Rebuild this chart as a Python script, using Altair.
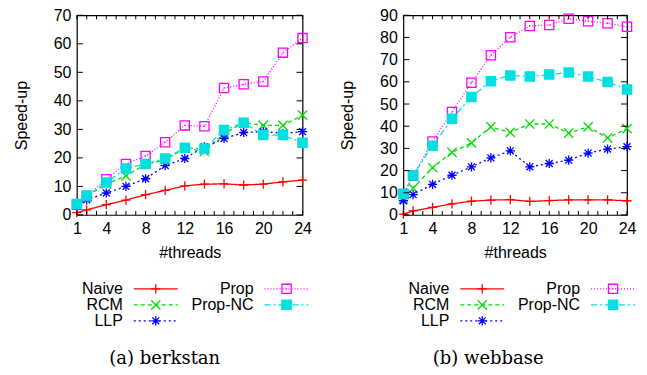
import altair as alt
import pandas as pd

threads = [1, 2, 4, 6, 8, 10, 12, 14, 16, 18, 20, 22, 24]
series_names = ["Naive", "RCM", "LLP", "Prop", "Prop-NC"]

# berkstan
naive_b = [0.8, 1.8, 3.6, 5.2, 7.1, 8.6, 10.2, 10.8, 10.9, 10.5, 10.8, 11.6, 12.2]
rcm_b = [3.6, 6.5, 10.9, 13.7, 17.8, 19.3, 23.5, 22.3, 28.5, 32.4, 31.4, 31.4, 35.0]
llp_b = [3.6, 5.3, 7.7, 10.0, 12.7, 17.3, 19.8, 23.9, 26.8, 28.9, 29.2, 28.6, 29.2]
prop_b = [3.6, 6.5, 12.5, 17.9, 20.7, 25.5, 31.4, 31.1, 44.5, 45.8, 46.8, 56.9, 62.0]
propnc_b = [3.8, 6.8, 11.4, 16.3, 17.9, 19.8, 23.6, 23.2, 29.8, 32.3, 28.0, 28.0, 25.3]

# webbase
naive_w = [0.4, 1.8, 3.4, 5.0, 6.2, 6.7, 6.9, 6.1, 6.5, 6.8, 6.8, 6.8, 6.4]
rcm_w = [7.0, 12.1, 21.3, 28.2, 32.5, 39.7, 37.2, 41.0, 41.0, 36.9, 39.7, 34.7, 38.9]
llp_w = [6.4, 9.2, 13.8, 17.9, 21.7, 25.7, 28.9, 21.7, 23.2, 24.7, 27.9, 29.7, 30.8]
prop_w = [9.4, 17.7, 33.1, 46.4, 59.6, 72.0, 80.1, 85.2, 85.6, 88.4, 87.3, 86.4, 84.8]
propnc_w = [9.4, 17.8, 31.2, 43.4, 53.2, 60.3, 62.9, 62.4, 63.3, 64.2, 62.4, 59.9, 56.6]

x_label_ticks = [1, 4, 8, 12, 16, 20, 24]
x_minor_ticks = list(range(1, 25))
y_ticks_b = [0, 10, 20, 30, 40, 50, 60, 70]
y_ticks_w = [0, 10, 20, 30, 40, 50, 60, 70, 80, 90]

legend_col = [0, 0, 0, 1, 1]
legend_row = [0, 1, 2, 0, 1]

colors = ["#ff0000", "#00dd00", "#0000ff", "#ff00ff", "#00e0e0"]
dashes = [[1, 0], [4, 3], [2, 3], [1, 2], [6, 3, 2, 3]]
PLUS = "M-1,0L1,0M0,-1L0,1"
XS = "M-1,-1L1,1M1,-1L-1,1"
STAR = "M-1,0L1,0M0,-1L0,1M-0.75,-0.75L0.75,0.75M0.75,-0.75L-0.75,0.75"
OSQ = "M-1,-1L1,-1L1,1L-1,1Z M-0.12,0L0.12,0"
shapes = [PLUS, XS, STAR, OSQ, "square"]
fills = ["transparent", "transparent", "transparent", "transparent", "#00e0e0"]

FONT = "Liberation Sans"
FS = 16

color_scale = alt.Scale(domain=series_names, range=colors)
dash_scale = alt.Scale(domain=series_names, range=dashes)
shape_scale = alt.Scale(domain=series_names, range=shapes)
fill_scale = alt.Scale(domain=series_names, range=fills)


def long_df(vals):
    rows = []
    for name, v in zip(series_names, vals):
        for t, s in zip(threads, v):
            rows.append({"series": name, "threads": t, "speedup": s})
    return pd.DataFrame(rows)


def panel(vals, ymax, yticks, width, caption, cap_dx):
    H = 200
    df = long_df(vals)
    xs = alt.Scale(domain=[1, 24], nice=False, zero=False)
    ys = alt.Scale(domain=[0, ymax], nice=False)
    xaxis = alt.Axis(values=x_label_ticks, title="#threads", ticks=False, domain=False,
                     grid=False, labelPadding=6, labelFontSize=FS, labelFont=FONT,
                     titleFont=FONT, titleFontSize=FS, titleFontWeight="normal",
                     titlePadding=8, labelFlush=False, labelOverlap=False,
                     labelColor="black", titleColor="black")
    yaxis = alt.Axis(values=yticks, title="Speed-up", ticks=False, domain=False,
                     grid=False, labelPadding=6, labelFontSize=FS, labelFont=FONT,
                     titleFont=FONT, titleFontSize=FS, titleFontWeight="normal",
                     titlePadding=24, labelFlush=False, labelOverlap=False,
                     labelColor="black", titleColor="black")
    base = alt.Chart(df)
    X = alt.X("threads:Q", scale=xs, axis=xaxis)
    Y = alt.Y("speedup:Q", scale=ys, axis=yaxis)
    lines = base.mark_line(strokeWidth=1.3, clip=False).encode(
        x=X, y=Y,
        stroke=alt.Stroke("series:N", scale=color_scale, legend=None),
        strokeDash=alt.StrokeDash("series:N", scale=dash_scale, legend=None),
    )
    pts = base.mark_point(filled=False, size=85, strokeWidth=1.3, opacity=1).encode(
        x=X, y=Y,
        shape=alt.Shape("series:N", scale=shape_scale, legend=None),
        stroke=alt.Stroke("series:N", scale=color_scale, legend=None),
        fill=alt.Fill("series:N", scale=fill_scale, legend=None),
    )
    xt = alt.Chart(pd.DataFrame({"threads": x_minor_ticks}))
    yt = alt.Chart(pd.DataFrame({"speedup": yticks}))
    tb = xt.mark_rule(color="black", strokeWidth=1).encode(
        x=X, y=alt.value(H), y2=alt.value(H - 4))
    tt = xt.mark_rule(color="black", strokeWidth=1).encode(
        x=X, y=alt.value(0), y2=alt.value(4))
    tl = yt.mark_rule(color="black", strokeWidth=1).encode(
        y=Y, x=alt.value(0), x2=alt.value(6))
    tr = yt.mark_rule(color="black", strokeWidth=1).encode(
        y=Y, x=alt.value(width), x2=alt.value(width - 6))
    plot = alt.layer(lines, pts, tb, tt, tl, tr)

    ldf = pd.DataFrame({"series": series_names, "col": legend_col, "row": legend_row})
    lxs = alt.Scale(domain=[0, 1], range=[79, 210])
    lys = alt.Scale(domain=[0, 2], range=[H + 74, H + 106])
    lb = alt.Chart(ldf)
    LX = alt.X("col:Q", scale=lxs, axis=None)
    LY = alt.Y("row:Q", scale=lys, axis=None)
    lline = lb.mark_point(shape="M-1,0L1,0", size=44 * 44, filled=False,
                          strokeWidth=1.3, opacity=1).encode(
        x=LX, y=LY,
        stroke=alt.Stroke("series:N", scale=color_scale, legend=None),
        strokeDash=alt.StrokeDash("series:N", scale=dash_scale, legend=None),
    )
    lpts = lb.mark_point(filled=False, size=85, strokeWidth=1.3, opacity=1).encode(
        x=LX, y=LY,
        shape=alt.Shape("series:N", scale=shape_scale, legend=None),
        stroke=alt.Stroke("series:N", scale=color_scale, legend=None),
        fill=alt.Fill("series:N", scale=fill_scale, legend=None),
    )
    ltxt = lb.mark_text(align="right", baseline="middle", dx=-33, font=FONT,
                        fontSize=FS, color="black").encode(
        x=LX, y=LY, text="series:N",
    )
    leg = alt.layer(lline, lpts, ltxt)
    return alt.layer(plot, leg).resolve_scale(x="independent", y="independent").properties(
        width=width, height=H,
        title=alt.TitleParams(caption, orient="bottom", anchor="middle", frame="group",
                              font="DejaVu Serif", fontSize=18, fontWeight="normal",
                              dx=cap_dx, offset=21, color="black"),
    )


left = panel([naive_b, rcm_b, llp_b, prop_b, propnc_b], 70, y_ticks_b, 226, "(a) berkstan", -25)
right = panel([naive_w, rcm_w, llp_w, prop_w, propnc_w], 90, y_ticks_w, 224, "(b) webbase", -27)

chart = alt.hconcat(left, right, spacing=101, bounds="flush").configure_view(
    stroke="black", strokeWidth=1.2
).configure_axis(labelOverlap=False).properties(
    padding={"left": 4, "top": -2, "right": 0, "bottom": 0}
)

chart.save("out.html", embed_options={"renderer": "svg", "actions": False})
